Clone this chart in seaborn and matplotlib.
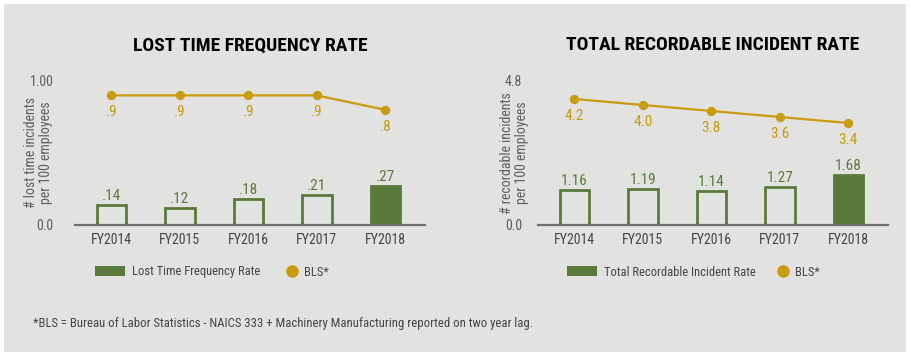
import matplotlib
matplotlib.use('Agg')
import matplotlib.pyplot as plt
from matplotlib.patches import Patch, Rectangle
from matplotlib.lines import Line2D
import pandas as pd
import seaborn as sns

years = ['FY2014', 'FY2015', 'FY2016', 'FY2017', 'FY2018']

ltfr = [0.14, 0.12, 0.18, 0.21, 0.27]
ltfr_labels = ['.14', '.12', '.18', '.21', '.27']
ltfr_bls = [0.9, 0.9, 0.9, 0.9, 0.8]
ltfr_bls_labels = ['.9', '.9', '.9', '.9', '.8']

trir = [1.16, 1.19, 1.14, 1.27, 1.68]
trir_labels = ['1.16', '1.19', '1.14', '1.27', '1.68']
trir_bls = [4.2, 4.0, 3.8, 3.6, 3.4]
trir_bls_labels = ['4.2', '4.0', '3.8', '3.6', '3.4']

PANEL = '#e2e2e0'
GREEN = '#5a7a3b'
GOLD = '#c99b0e'
GRAY = '#5f5f5f'
TEXT = '#454545'

sns.set_style('white')
plt.rcParams['font.family'] = ['Roboto Condensed', 'Roboto', 'DejaVu Sans']


def rate_panel(ax, values, labels, bls, bls_labels, ymax, ymax_label, title, ylabel, tick_pad, ylabel_x):
    data = pd.DataFrame({'year': years, 'rate': values, 'bls': bls})
    ax.set_facecolor(PANEL)

    sns.barplot(data=data, x='year', y='rate', ax=ax, width=0.43,
                color=PANEL, edgecolor=GREEN, linewidth=2, saturation=1)
    for i, bar in enumerate(ax.patches):
        bar.set_facecolor(GREEN if i == len(ax.patches) - 1 else PANEL)
        ax.annotate(labels[i], (bar.get_x() + bar.get_width() / 2, bar.get_height()),
                    xytext=(0, 1.5), textcoords='offset points', ha='center', va='bottom',
                    color=GREEN, fontsize=11)

    sns.pointplot(data=data, x='year', y='bls', ax=ax, color=GOLD,
                  markersize=5.5, linewidth=1.6)
    for i, v in enumerate(bls):
        ax.annotate(bls_labels[i], (i, v), xytext=(0, -7), textcoords='offset points',
                    ha='center', va='top', color=GOLD, fontsize=11)

    ax.set_ylim(0, ymax)
    ax.set_xlim(-0.53, 4.58)
    ax.set_yticks([0, ymax])
    ax.set_yticklabels(['0.0', ymax_label])
    ax.tick_params(axis='y', length=0, pad=tick_pad, labelsize=10, labelcolor=GRAY)
    ax.tick_params(axis='x', length=0, pad=6, labelsize=10, labelcolor=TEXT)
    for side in ['top', 'right', 'left']:
        ax.spines[side].set_visible(False)
    ax.spines['bottom'].set_color('#707070')
    ax.spines['bottom'].set_linewidth(1.6)
    ax.set_xlabel('')
    ax.set_ylabel(ylabel, color=GRAY, fontsize=10, linespacing=1.1)
    ax.yaxis.set_label_coords(ylabel_x, 0.5)
    ax.set_title(title, fontsize=14, fontweight='bold', color='black', pad=22)


fig = plt.figure(figsize=(9.10, 3.59), dpi=100)
fig.patch.set_facecolor('white')
fig.patches.append(Rectangle((4 / 910, 7 / 359), 902 / 910, 348 / 359,
                             transform=fig.transFigure, facecolor=PANEL,
                             edgecolor='none', zorder=-1))

ax1 = fig.add_axes([75 / 910, 134 / 359, 350 / 910, 144 / 359])
ax2 = fig.add_axes([538 / 910, 134 / 359, 350 / 910, 144 / 359])

rate_panel(ax1, ltfr, ltfr_labels, ltfr_bls, ltfr_bls_labels, 1.0, '1.00',
           'LOST TIME FREQUENCY RATE', '# lost time incidents\nper 100 employees', 15.5, -0.063)
rate_panel(ax2, trir, trir_labels, trir_bls, trir_bls_labels, 4.8, '4.8',
           'TOTAL RECORDABLE INCIDENT RATE', '# recordable incidents\nper 100 employees', 11.5, -0.026)

legend_entries = [
    (95, 'bar', 'Lost Time Frequency Rate'),
    (287, 'dot', 'BLS*'),
    (567, 'bar', 'Total Recordable Incident Rate'),
    (778, 'dot', 'BLS*'),
]
for x0, kind, name in legend_entries:
    if kind == 'bar':
        handle = Patch(facecolor=GREEN, edgecolor='none', label=name)
        hlen = 2.4
    else:
        handle = Line2D([], [], marker='o', linestyle='none', markersize=8,
                        markerfacecolor=GOLD, markeredgecolor=GOLD, label=name)
        hlen = 0.8
    fig.legend(handles=[handle], loc='center left', bbox_to_anchor=(x0 / 910, 87 / 359),
               frameon=False, fontsize=9, handlelength=hlen, handleheight=0.8,
               handletextpad=0.55, labelcolor=TEXT, borderpad=0, borderaxespad=0)

fig.text(33 / 910, 36 / 359,
         '*BLS = Bureau of Labor Statistics - NAICS 333 + Machinery Manufacturing reported on two year lag.',
         ha='left', va='center', fontsize=9.2, color=TEXT)

fig.savefig('out.png', dpi=100, facecolor='white')
